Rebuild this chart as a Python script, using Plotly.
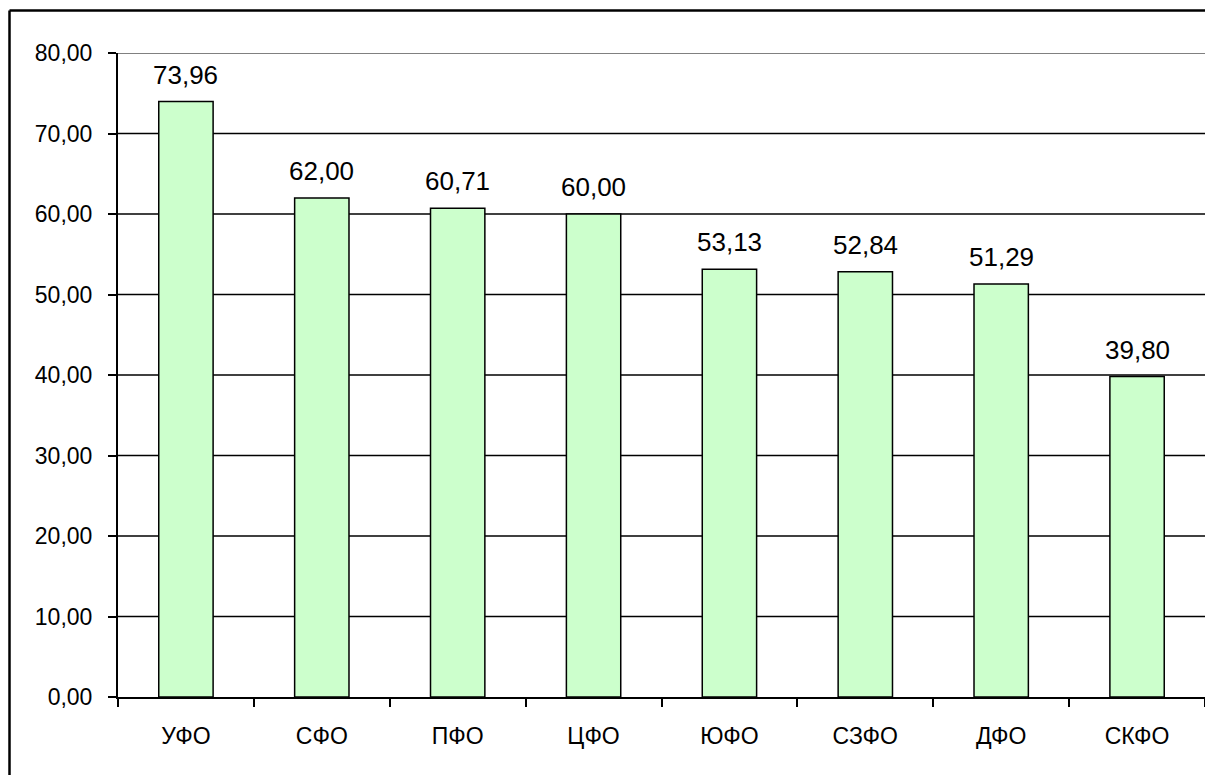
import plotly.graph_objects as go

categories = ["УФО", "СФО", "ПФО", "ЦФО", "ЮФО", "СЗФО", "ДФО", "СКФО"]
values = [73.96, 62.00, 60.71, 60.00, 53.13, 52.84, 51.29, 39.80]
labels = ["73,96", "62,00", "60,71", "60,00", "53,13", "52,84", "51,29", "39,80"]
y_ticks = [0, 10, 20, 30, 40, 50, 60, 70, 80]

FONT = "Liberation Sans, Arial, sans-serif"

W, H = 1205, 775
ML, MT, MB = 118, 53, 78
PW, PH = W - ML, H - MT - MB

fig = go.Figure()
fig.add_trace(go.Bar(
    x=categories, y=values,
    marker=dict(color="#CCFFCC", line=dict(color="black", width=1.5)),
    width=0.4, hoverinfo="skip",
))

for c, v, t in zip(categories, values, labels):
    fig.add_annotation(x=c, y=v, text=t, showarrow=False, yanchor="bottom",
                       yshift=10, font=dict(family=FONT, size=26, color="black"))

# black gridlines except top (gray)
for t in y_ticks[1:-1]:
    fig.add_shape(type="line", xref="paper", yref="y", x0=0, x1=1, y0=t, y1=t,
                  line=dict(color="black", width=1.4), layer="below")
fig.add_shape(type="line", xref="paper", yref="y", x0=0, x1=1, y0=80, y1=80,
              line=dict(color="#808080", width=2), layer="below")

# outer frame: only left and top edges are visible on the page
fx0 = (9.5 - ML) / PW
fy1 = (H - MB - 10.5) / PH
fig.add_shape(type="line", xref="paper", yref="paper", x0=fx0, x1=fx0,
              y0=-0.2, y1=fy1, line=dict(color="black", width=2.5))
fig.add_shape(type="line", xref="paper", yref="paper", x0=fx0, x1=1.0,
              y0=fy1, y1=fy1, line=dict(color="black", width=2.5))

fig.update_layout(
    width=W, height=H,
    margin=dict(l=ML, r=0, t=MT, b=MB),
    plot_bgcolor="white", paper_bgcolor="white",
    showlegend=False,
    separators=", ",
    font=dict(family=FONT, size=23, color="black"),
    xaxis=dict(
        type="category", showgrid=False, ticks="outside", tickson="boundaries",
        ticklen=8, tickwidth=1.5, tickcolor="black",
        showline=True, linecolor="black", linewidth=2,
        tickfont=dict(family=FONT, size=23, color="black"), ticklabelstandoff=17,
    ),
    yaxis=dict(
        range=[0, 80], tickvals=y_ticks, tickformat=".2f", showgrid=False,
        ticks="outside", ticklen=8, tickwidth=1.5, tickcolor="black",
        showline=True, linecolor="black", linewidth=2, zeroline=False,
        tickfont=dict(family=FONT, size=23, color="black"), ticklabelstandoff=11,
    ),
)

fig.write_html("out.html", config={"displayModeBar": False},
               post_script="document.body.style.margin='0';document.body.style.overflow='hidden';")
